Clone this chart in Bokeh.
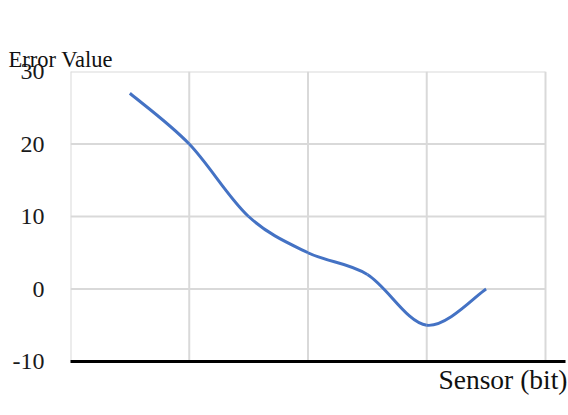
from bokeh.plotting import figure
from bokeh.models import Title, FixedTicker, Range1d
from bokeh.embed import file_html
from bokeh.resources import INLINE

# data
sensor = [1, 2, 3, 4, 5, 6, 7]
error = [27, 20, 10, 5, 2, -5, 0]
y_ticks = [-10, 0, 10, 20, 30]
y_tick_labels = ["-10", "0", "10", "20", "30"]
x_grid = [0, 2, 4, 6, 8]
y_title = "Error Value"
x_title = "Sensor (bit)"

SERIF = "Liberation Serif"
GRID = "#d9d9d9"
LINE = "#4472c4"

W, H = 568, 415
p = figure(width=W, height=H, output_backend="svg", toolbar_location=None,
           x_range=Range1d(0, 8.337), y_range=Range1d(-10, 30),
           min_border_left=70, min_border_right=3, min_border_top=71,
           min_border_bottom=54)
p.outline_line_color = None
p.background_fill_color = "white"
p.border_fill_color = "white"

# grids (drawn as segments so that they stop at the last grid column)
p.xgrid.grid_line_color = None
p.ygrid.grid_line_color = None
p.segment(x0=[x_grid[0]] * len(y_ticks), x1=[x_grid[-1]] * len(y_ticks),
          y0=y_ticks, y1=y_ticks, line_color=GRID, line_width=2)
p.segment(x0=x_grid, x1=x_grid, y0=[y_ticks[0]] * len(x_grid),
          y1=[y_ticks[-1]] * len(x_grid), line_color=GRID, line_width=2)

# axes
p.xaxis.ticker = FixedTicker(ticks=[])
p.xaxis.axis_line_color = "black"
p.xaxis.axis_line_width = 3
p.xaxis.major_tick_line_color = None
p.xaxis.minor_tick_line_color = None
p.xaxis.major_tick_out = 0
p.xaxis.minor_tick_out = 0
p.xaxis.major_label_text_font_size = "0px"

p.yaxis.ticker = FixedTicker(ticks=y_ticks)
p.yaxis.major_label_overrides = {t: s for t, s in zip(y_ticks, y_tick_labels)}
p.yaxis.axis_line_color = None
p.yaxis.major_tick_line_color = None
p.yaxis.minor_tick_line_color = None
p.yaxis.major_tick_out = 0
p.yaxis.minor_tick_out = 0
p.yaxis.major_label_standoff = 26
p.yaxis.major_label_text_font = SERIF
p.yaxis.major_label_text_font_size = "24px"
p.yaxis.major_label_text_color = "#1a1a1a"

# smooth curve (Catmull-Rom style bezier, like spreadsheet smoothing)
n = len(sensor)
x0, y0, x1, y1, cx0, cy0, cx1, cy1 = [], [], [], [], [], [], [], []
for i in range(n - 1):
    pm = i - 1 if i > 0 else i
    pn = i + 2 if i + 2 < n else i + 1
    x0.append(sensor[i]); y0.append(error[i])
    x1.append(sensor[i + 1]); y1.append(error[i + 1])
    cx0.append(sensor[i] + (sensor[i + 1] - sensor[pm]) / 6)
    cy0.append(error[i] + (error[i + 1] - error[pm]) / 6)
    cx1.append(sensor[i + 1] - (sensor[pn] - sensor[i]) / 6)
    cy1.append(error[i + 1] - (error[pn] - error[i]) / 6)
p.bezier(x0=x0, y0=y0, x1=x1, y1=y1, cx0=cx0, cy0=cy0, cx1=cx1, cy1=cy1,
         line_color=LINE, line_width=3)

# titles, each followed by an invisible spacer panel (the later-added panel
# sits nearest the frame) that pushes the title away from the plot area
p.add_layout(Title(text=y_title, align="left", offset=-62, standoff=0,
                   text_font=SERIF, text_font_size="22.5px",
                   text_font_style="normal", text_color="#111111"), "above")
p.add_layout(Title(text=".", standoff=27, text_font=SERIF, text_font_size="10px",
                   text_color="white", text_alpha=0), "above")
p.add_layout(Title(text=x_title, align="right", offset=-2, standoff=0,
                   text_font=SERIF, text_font_size="27.5px",
                   text_font_style="normal", text_color="#111111"), "below")
p.add_layout(Title(text=".", standoff=6, text_font=SERIF, text_font_size="10px",
                   text_color="white", text_alpha=0), "below")

open("out.html", "w").write(file_html(p, INLINE))
